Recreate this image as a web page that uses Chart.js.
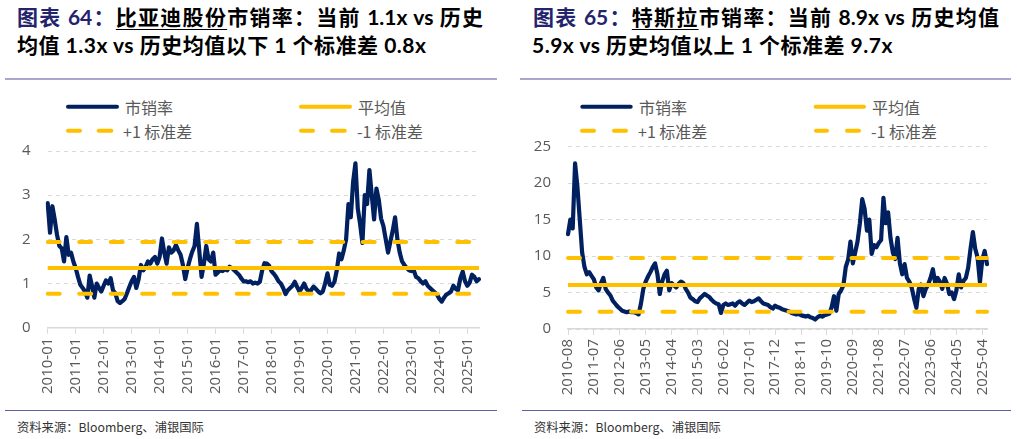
<!DOCTYPE html>
<html lang="zh-CN">
<head>
<meta charset="utf-8">
<title>市销率</title>
<script src="https://cdn.jsdelivr.net/npm/chart.js@4.4.1/dist/chart.umd.min.js"></script>
<style>
html,body{margin:0;padding:0;background:#ffffff;}
body{width:1017px;height:439px;position:relative;overflow:hidden;font-family:"Noto Sans CJK SC",sans-serif;}
.title{position:absolute;white-space:nowrap;font-family:"Lato","Noto Sans CJK SC",sans-serif;font-weight:700;font-size:21px;line-height:28px;color:#000;}
.title.j{text-align:justify;text-align-last:justify;text-justify:inter-character;}
.title.l2{letter-spacing:0.5px;}
.title .lbl{color:#23236e;}
.title .ul{text-decoration:underline;text-decoration-thickness:1px;text-underline-offset:4px;}
.rule{position:absolute;height:0;}
.rule.top{border-top:2px solid #a9a7cc;}
.rule.bot{border-top:1.5px solid #5f5fa6;}
.src{position:absolute;font-size:12.3px;line-height:16px;color:#333;white-space:nowrap;font-family:"Noto Sans CJK SC",sans-serif;}
.lg{position:absolute;font-size:16px;line-height:20px;color:#595959;white-space:nowrap;font-family:"Noto Sans CJK SC",sans-serif;}
svg.sw{position:absolute;left:0;top:0;overflow:visible;}
canvas{position:absolute;}
</style>
</head>
<body>

<div class="title j" style="left:17px;top:3px;width:466px;"><span class="lbl">图表 64：</span><span class="ul">比亚迪股份</span>市销率：当前 1.1x vs 历史</div>
<div class="title l2" style="left:17px;top:31px;">均值 1.3x vs 历史均值以下 1 个标准差 0.8x</div>
<div class="title j" style="left:533px;top:3px;width:466px;"><span class="lbl">图表 65：</span><span class="ul">特斯拉</span>市销率：当前 8.9x vs 历史均值</div>
<div class="title l2" style="left:532px;top:31px;">5.9x vs 历史均值以上 1 个标准差 9.7x</div>

<div class="rule top" style="left:5px;width:492px;top:78px;"></div>
<div class="rule top" style="left:520px;width:491px;top:78px;"></div>

<svg class="sw" width="1017" height="439">
  <g stroke-width="4" stroke-linecap="round">
    <line x1="68" y1="106.7" x2="117" y2="106.7" stroke="#002060"/>
    <line x1="301" y1="106.7" x2="350" y2="106.7" stroke="#FFC000"/>
    <line x1="68" y1="130.7" x2="80" y2="130.7" stroke="#FFC000"/>
    <line x1="98.7" y1="130.7" x2="111.3" y2="130.7" stroke="#FFC000"/>
    <line x1="301" y1="130.7" x2="313" y2="130.7" stroke="#FFC000"/>
    <line x1="332" y1="130.7" x2="344.7" y2="130.7" stroke="#FFC000"/>

    <line x1="582.3" y1="106.7" x2="630.7" y2="106.7" stroke="#002060"/>
    <line x1="815.7" y1="106.7" x2="864" y2="106.7" stroke="#FFC000"/>
    <line x1="582" y1="130.7" x2="594" y2="130.7" stroke="#FFC000"/>
    <line x1="614" y1="130.7" x2="626" y2="130.7" stroke="#FFC000"/>
    <line x1="816" y1="130.7" x2="827" y2="130.7" stroke="#FFC000"/>
    <line x1="847" y1="130.7" x2="859" y2="130.7" stroke="#FFC000"/>
  </g>
</svg>

<div class="lg" style="left:125px;top:96.7px;">市销率</div>
<div class="lg" style="left:358px;top:96.7px;">平均值</div>
<div class="lg" style="left:123px;top:120.7px;">+1 标准差</div>
<div class="lg" style="left:357px;top:120.7px;">-1 标准差</div>

<div class="lg" style="left:639px;top:96.7px;">市销率</div>
<div class="lg" style="left:872px;top:96.7px;">平均值</div>
<div class="lg" style="left:638px;top:120.7px;">+1 标准差</div>
<div class="lg" style="left:871px;top:120.7px;">-1 标准差</div>

<canvas id="c1" width="500" height="285" style="left:0px;top:125px;width:500px;height:285px;"></canvas>
<canvas id="c2" width="500" height="285" style="left:517px;top:125px;width:500px;height:285px;"></canvas>

<div class="rule bot" style="left:5px;width:492px;top:410px;"></div>
<div class="rule bot" style="left:522px;width:489px;top:410px;"></div>

<div class="src" style="left:17px;top:419px;">资料来源：Bloomberg、浦银国际</div>
<div class="src" style="left:534px;top:419px;">资料来源：Bloomberg、浦银国际</div>

<script>
// ---------------- DATA ----------------
// BYD (比亚迪股份) price-to-sales, monthly, starting 2010-01
const BYD_START_YEAR = 2010, BYD_START_MONTH = 1;
const BYD_PS = [
  2.82, 2.15, 2.75, 2.45, 2.10, 1.85, 1.80, 1.50, 2.05, 1.65, 1.70, 1.50,
  1.35, 1.15, 0.97, 0.90, 0.82, 0.68, 1.18, 0.95, 0.68, 1.00, 0.90, 0.82,
  0.95, 1.07, 1.00, 1.12, 0.85, 0.78, 0.60, 0.56, 0.60, 0.65, 0.78, 0.92,
  1.05, 1.15, 0.90, 1.10, 1.42, 1.30, 1.38, 1.50, 1.45, 1.55, 1.60, 1.45,
  1.60, 2.02, 1.70, 1.45, 1.82, 1.70, 1.75, 1.87, 1.75, 1.65, 1.42, 1.10,
  1.35, 1.55, 1.72, 1.85, 2.35, 1.75, 1.15, 1.45, 1.85, 1.55, 1.50, 1.70,
  1.20, 1.25, 1.30, 1.28, 1.32, 1.30, 1.38, 1.35, 1.30, 1.25, 1.20, 1.12,
  1.05, 1.05, 1.03, 1.05, 1.00, 1.02, 1.00, 1.04, 1.30, 1.46, 1.45, 1.40,
  1.28, 1.22, 1.15, 1.05, 1.00, 0.90, 0.76, 0.85, 0.90, 0.95, 1.04, 0.92,
  0.82, 0.90, 1.00, 0.88, 0.82, 0.85, 0.93, 0.88, 0.82, 0.78, 0.82, 1.00,
  1.23, 0.97, 0.95, 1.04, 1.30, 1.68, 1.55, 1.75, 2.00, 2.80, 2.50, 3.30,
  3.72, 2.70, 2.35, 1.92, 3.00, 2.80, 3.57, 3.00, 2.45, 3.15, 2.90, 2.47,
  2.30, 2.00, 1.70, 1.95, 2.20, 2.50, 2.00, 1.70, 1.50, 1.42, 1.35, 1.30,
  1.28, 1.30, 1.15, 1.12, 1.05, 1.00, 1.05, 0.95, 0.90, 0.85, 0.80, 0.75,
  0.65, 0.59, 0.68, 0.75, 0.78, 0.82, 0.95, 0.88, 0.85, 1.12, 1.27, 1.05,
  0.95, 1.02, 1.20, 1.15, 1.05, 1.10
];
const BYD_MEAN = 1.35;
const BYD_PLUS1 = 1.94;
const BYD_MINUS1 = 0.77;
const BYD_TICKS = ['2010-01','2011-01','2012-01','2013-01','2014-01','2015-01','2016-01','2017-01',
                   '2018-01','2019-01','2020-01','2021-01','2022-01','2023-01','2024-01','2025-01'];

// Tesla (特斯拉) price-to-sales, monthly, starting 2010-08
const TSLA_START_YEAR = 2010, TSLA_START_MONTH = 8;
const TSLA_PS = [
  13.0, 15.0, 13.8, 22.7, 19.5, 15.0, 10.5, 8.5, 7.5, 7.8,
  7.3, 6.8, 5.7, 5.3, 6.3, 7.0, 5.5, 5.0, 4.6, 3.9,
  3.5, 3.1, 2.8, 2.5, 2.4, 2.3, 2.4, 2.3, 2.3, 2.2,
  2.0, 3.5, 5.5, 6.5, 7.2, 7.8, 8.5, 9.0, 7.5, 4.8,
  6.5, 7.5, 8.0, 5.3, 6.3, 6.0, 5.7, 6.2, 6.5, 6.3,
  5.5, 5.0, 4.3, 4.1, 3.8, 3.7, 4.2, 4.5, 4.8, 4.6,
  4.4, 4.0, 3.7, 3.5, 3.4, 2.2, 3.3, 3.5, 3.3, 3.4,
  3.5, 3.2, 3.6, 3.8, 3.5, 3.3, 3.6, 3.9, 3.7, 3.8,
  4.0, 4.2, 3.8, 3.5, 3.4, 3.3, 3.0, 2.8, 3.2, 3.0,
  2.9, 2.7, 2.6, 2.5, 2.4, 2.2, 2.1, 2.0, 2.1, 1.9,
  1.8, 1.7, 1.8, 1.6, 1.5, 1.3, 1.6, 1.8, 1.7, 1.9,
  2.0, 2.1, 3.0, 4.5, 2.5, 4.8, 5.3, 6.0, 8.5, 9.5,
  12.0, 9.0, 10.5, 12.0, 14.5, 17.8, 16.5, 13.5, 15.0, 10.3,
  11.5, 11.2, 11.8, 12.2, 18.0, 14.5, 16.0, 12.5, 10.5, 9.6,
  12.5, 9.0, 7.5, 8.9, 7.0, 6.5, 5.7, 4.2, 2.9, 5.5,
  6.1, 4.5, 5.5, 6.1, 7.0, 8.2, 6.3, 7.0, 6.5, 5.5,
  7.0, 6.2, 4.8, 5.0, 4.1, 5.3, 7.5, 5.7, 6.6, 7.0,
  8.4, 11.0, 13.3, 11.0, 9.8, 6.4, 9.5, 10.7, 8.9
];
const TSLA_MEAN = 6.05;
const TSLA_PLUS1 = 9.75;
const TSLA_MINUS1 = 2.35;
const TSLA_TICKS = ['2010-08','2011-07','2012-06','2013-05','2014-04','2015-03','2016-02','2017-01',
                    '2017-12','2018-11','2019-10','2020-09','2021-08','2022-07','2023-06','2024-05','2025-04'];

// ---------------- helpers ----------------
function monthLabels(startYear, startMonth, count) {
  const out = [];
  for (let i = 0; i < count; i++) {
    const m = startMonth - 1 + i;
    out.push((startYear + Math.floor(m / 12)) + '-' + String(m % 12 + 1).padStart(2, '0'));
  }
  return out;
}
const BYD_LABELS = monthLabels(BYD_START_YEAR, BYD_START_MONTH, BYD_PS.length);
const TSLA_LABELS = monthLabels(TSLA_START_YEAR, TSLA_START_MONTH, TSLA_PS.length);

const NAVY = '#002060';
const GOLD = '#FFC000';
const TICK_FONT = { family: '"Open Sans", "Liberation Sans", sans-serif', size: 15 };

Chart.defaults.font.family = '"Open Sans", "Noto Sans CJK SC", sans-serif';

function build(canvasId, labels, ps, mean, plus1, minus1, tickLabels, yMax, yStep, geo) {
  const first = labels[0], last = labels[labels.length - 1];
  const level = v => [{ x: first, y: v }, { x: last, y: v }];
  const dashed = { borderColor: GOLD, borderWidth: 4, borderDash: [12, 19.5], borderCapStyle: 'round',
                   pointRadius: 0, fill: false, order: 1 };
  return new Chart(document.getElementById(canvasId), {
    type: 'line',
    data: {
      labels: labels,
      datasets: [
        { label: '市销率', data: ps, borderColor: NAVY, borderWidth: 4.2, pointRadius: 0, tension: 0,
          borderJoinStyle: 'round', borderCapStyle: 'round', fill: false, order: 2 },
        { label: '平均值', data: level(mean), borderColor: GOLD, borderWidth: 4, pointRadius: 0,
          fill: false, order: 1 },
        Object.assign({ label: '+1 标准差', data: level(plus1) }, dashed),
        Object.assign({ label: '-1 标准差', data: level(minus1) }, dashed)
      ]
    },
    options: {
      responsive: false,
      animation: false,
      events: [],
      layout: { padding: { top: geo.top, right: geo.right, left: 0, bottom: 0 } },
      plugins: { legend: { display: false }, tooltip: { enabled: false }, title: { display: false } },
      scales: {
        x: {
          type: 'category',
          offset: false,
          grid: { display: true, drawOnChartArea: false, drawTicks: true, tickLength: 6,
                  color: '#d9d9d9', lineWidth: 1 },
          border: { display: true, color: '#d9d9d9', width: 1.5 },
          ticks: { autoSkip: false, minRotation: 90, maxRotation: 90, padding: 4,
                   color: '#595959', font: TICK_FONT },
          afterBuildTicks: s => { s.ticks = s.ticks.filter(t => tickLabels.includes(labels[t.value])); },
          afterFit: s => { s.height = geo.xh; s.paddingLeft = 0; s.paddingRight = 0; }
        },
        y: {
          min: 0, max: yMax,
          ticks: { stepSize: yStep, padding: 17, color: '#595959', font: TICK_FONT },
          grid: { color: '#d9d9d9', lineWidth: 1, drawTicks: false },
          border: { display: false, dash: [4, 4] },
          afterFit: s => { s.width = geo.yw; s.paddingTop = 0; s.paddingBottom = 0; }
        }
      }
    }
  });
}

build('c1', BYD_LABELS, BYD_PS, BYD_MEAN, BYD_PLUS1, BYD_MINUS1, BYD_TICKS, 4, 1,
      { top: 26, right: 21, xh: 82.3, yw: 47.7 });
build('c2', TSLA_LABELS, TSLA_PS, TSLA_MEAN, TSLA_PLUS1, TSLA_MINUS1, TSLA_TICKS, 25, 5,
      { top: 21.7, right: 30, xh: 81, yw: 51 });
</script>
</body>
</html>
